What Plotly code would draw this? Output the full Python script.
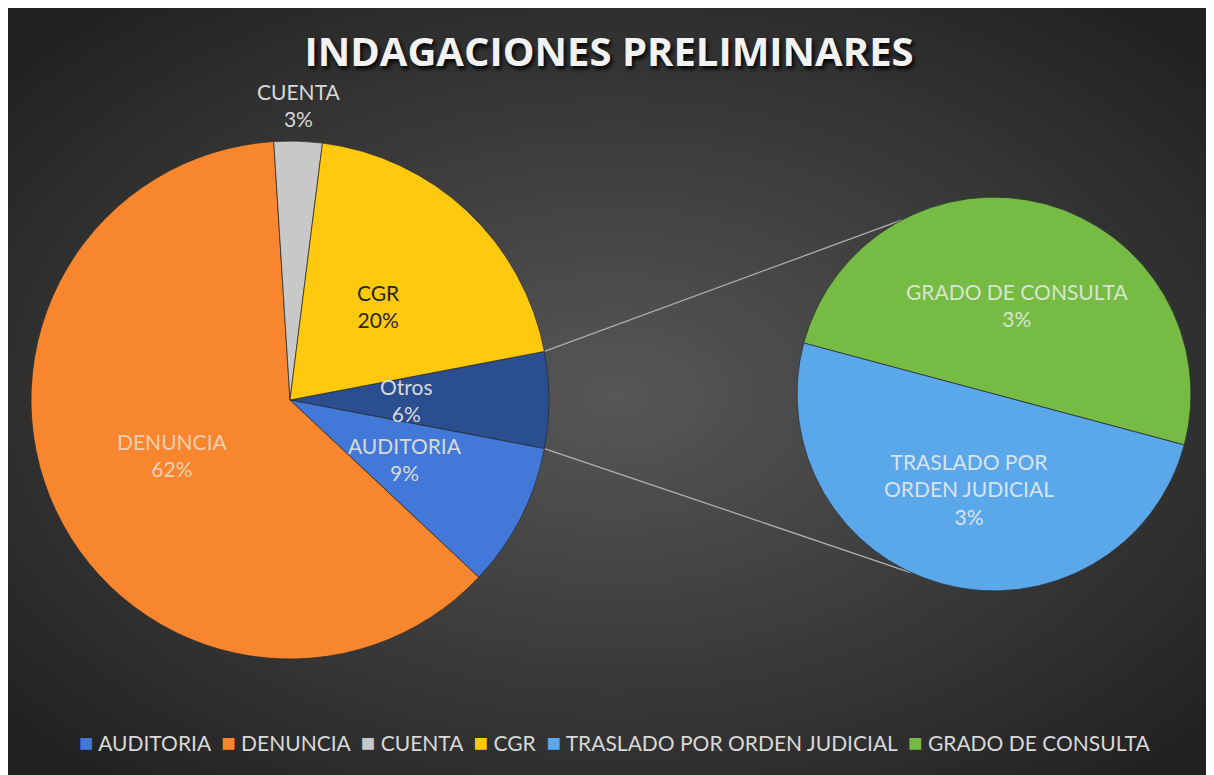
import math
import base64
import plotly.graph_objects as go

W, H = 1214, 775
OFF = 8  # page offset of the rendered figure (body margin)

# ---------------- data ----------------
sec_labels = ["GRADO DE CONSULTA", "TRASLADO POR ORDEN JUDICIAL"]
sec_values = [3, 3]
sec_text = ["GRADO DE CONSULTA<br>3%", "TRASLADO POR<br>ORDEN JUDICIAL<br>3%"]

main_labels = ["Otros", "AUDITORIA", "DENUNCIA", "CUENTA", "CGR"]
main_values = [sum(sec_values), 9, 62, 3, 20]
main_text = ["Otros<br>6%", "AUDITORIA<br>9%", "DENUNCIA<br>62%", "CUENTA<br>3%", "CGR<br>20%"]

legend_labels = ["AUDITORIA", "DENUNCIA", "CUENTA", "CGR",
                 "TRASLADO POR ORDEN JUDICIAL", "GRADO DE CONSULTA"]

# ---------------- styles ----------------
main_colors = ["#2A4E8F", "#4279D8", "#F7862E", "#C8C8C8", "#FFC90E"]
sec_colors = ["#76BB43", "#5AA8EA"]
legend_colors = ["#4279D8", "#F7862E", "#C8C8C8", "#FFC90E", "#5AA8EA", "#76BB43"]
main_label_colors = ["#D9D9D9", "#D9D9D9", "#F2CFB3", "#D9D9D9", "#262626"]
main_label_rf = [0.45, 0.5, 0.5, 1.14, 0.5]
sec_label_colors = ["#D9E5CF", "#D9E3EE"]
sec_label_rf = [0.47, 0.5]

FONT = "Lato"

# geometry (pixels, in reference-picture coordinates)
mcx, mcy, mr = 290, 400, 259
scx, scy, sr = 994, 394, 197

otros_deg = main_values[0] / sum(main_values) * 360
main_rot = 90 - otros_deg / 2
sec_rot = -75


def px_to_paper(x, y):
    return (x - OFF) / W, 1 - (y - OFF) / H


def dom(cx, cy, r):
    x0, y0 = px_to_paper(cx - r, cy + r)
    x1, y1 = px_to_paper(cx + r, cy - r)
    return dict(x=[x0, x1], y=[y0, y1])


def point(cx, cy, r, ang):
    a = math.radians(ang)
    return cx + r * math.sin(a), cy - r * math.cos(a)


fig = go.Figure()

fig.add_trace(go.Pie(
    labels=main_labels, values=main_values, sort=False, direction="clockwise",
    rotation=main_rot, domain=dom(mcx, mcy, mr), textinfo="none",
    marker=dict(colors=main_colors, line=dict(color="rgba(40,40,40,0.7)", width=1)),
    showlegend=False, hoverinfo="label+percent",
))
fig.add_trace(go.Pie(
    labels=sec_labels, values=sec_values, sort=False, direction="clockwise",
    rotation=sec_rot, domain=dom(scx, scy, sr), textinfo="none",
    marker=dict(colors=sec_colors, line=dict(color="rgba(40,40,40,0.7)", width=1)),
    showlegend=False, hoverinfo="label+value",
))

annotations = []


def add_labels(values, texts, colors, rfs, rot, cx, cy, r):
    tot = sum(values)
    cum = rot
    for v, t, c, f in zip(values, texts, colors, rfs):
        span = v / tot * 360
        mid = cum + span / 2
        x, y = point(cx, cy, r * f, mid)
        px, py = px_to_paper(x, y)
        annotations.append(dict(x=px, y=py, xref="paper", yref="paper", text=t,
                                showarrow=False, xanchor="center", yanchor="middle",
                                font=dict(family=FONT, size=21, color=c)))
        cum += span


add_labels(main_values, main_text, main_label_colors, main_label_rf, main_rot, mcx, mcy, mr)
add_labels(sec_values, sec_text, sec_label_colors, sec_label_rf, sec_rot, scx, scy, sr)

# connector lines (Otros edges -> secondary pie)
shapes = []
for a_main, a_sec in [(main_rot, -28), (main_rot + otros_deg, 205)]:
    x0, y0 = px_to_paper(*point(mcx, mcy, mr, a_main))
    x1, y1 = px_to_paper(*point(scx, scy, sr, a_sec))
    shapes.append(dict(type="line", xref="paper", yref="paper", x0=x0, y0=y0, x1=x1, y1=y1,
                       line=dict(color="#B0B0B0", width=1.3), layer="below"))

# legend as a single annotation
items = []
for lab, col in zip(legend_labels, legend_colors):
    items.append(f"<span style='color:{col};font-size:24px'>■</span>&nbsp;{lab}")
legend_text = "&nbsp;&nbsp;".join(items)
lx, ly = px_to_paper(614, 741)
annotations.append(dict(x=lx, y=ly, xref="paper", yref="paper", text=legend_text,
                        showarrow=False, xanchor="center", yanchor="middle",
                        font=dict(family=FONT, size=21, color="#D9D9D9")))

# radial gradient background
svg = f"""<svg xmlns='http://www.w3.org/2000/svg' width='{W}' height='{H}'>
<defs><radialGradient id='g' cx='50%' cy='50%' r='65%'>
<stop offset='0%' stop-color='#575757'/><stop offset='100%' stop-color='#222222'/>
</radialGradient></defs><rect width='{W}' height='{H}' fill='url(#g)'/></svg>"""
bg_src = "data:image/svg+xml;base64," + base64.b64encode(svg.encode()).decode()

tx, ty = px_to_paper(609, 52)
fig.update_layout(
    width=W, height=H, margin=dict(l=0, r=0, t=0, b=0),
    paper_bgcolor="#2F2F2F", plot_bgcolor="rgba(0,0,0,0)",
    title=dict(text="INDAGACIONES PRELIMINARES", x=tx, xanchor="center",
               y=ty, yanchor="middle",
               font=dict(family="Open Sans", size=40, color="#F2F2F2", weight="bold",
                         shadow="2px 3px 4px #000000")),
    images=[dict(source=bg_src, xref="paper", yref="paper", x=0, y=1, sizex=1, sizey=1,
                 sizing="stretch", layer="below", xanchor="left", yanchor="top")],
    annotations=annotations, shapes=shapes,
)

fig.write_html("out.html")
